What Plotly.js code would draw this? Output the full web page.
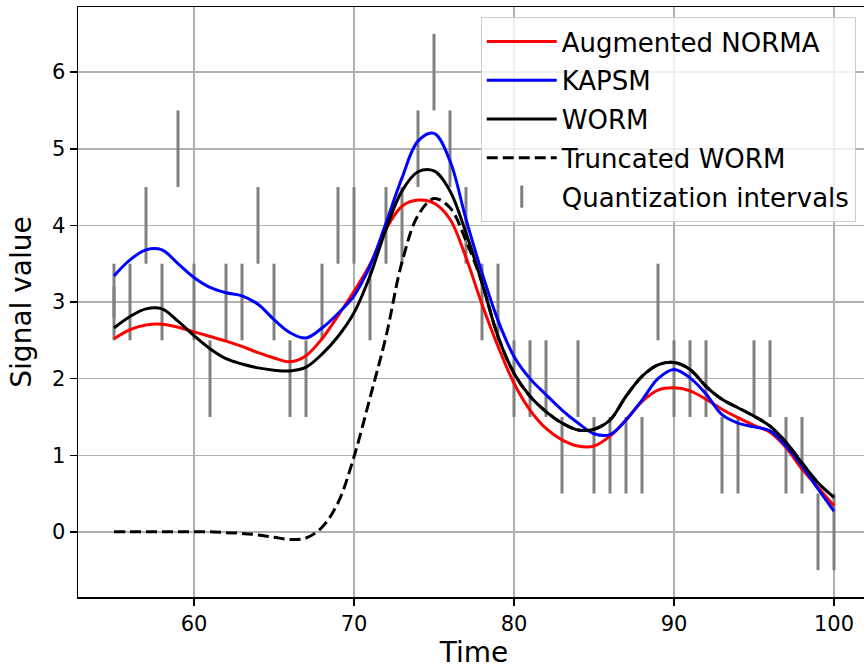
<!DOCTYPE html>
<html>
<head>
<meta charset="utf-8">
<script src="https://cdn.plot.ly/plotly-3.0.1.min.js"></script>
<style>
  html, body { margin: 0; padding: 0; overflow: hidden; background: #fff; }
  #chart { width: 870px; height: 670px; }
</style>
</head>
<body>
<div id="chart"></div>
<script>
// ---- data ----
const times = [55,56,57,58,59,60,61,62,63,64,65,66,67,68,69,70,71,72,73,74,75,76,77,78,79,80,
               81,82,83,84,85,86,87,88,89,90,91,92,93,94,95,96,97,98,99,100];

// lower edge of each quantization interval (each interval is 1 unit wide)
const intervalLower = [2.5,2.5,3.5,2.5,4.5,2.5,1.5,2.5,2.5,3.5,2.5,1.5,1.5,2.5,3.5,3.5,2.5,3.5,3.5,4.5,5.5,4.5,3.5,2.5,2.5,1.5,
                       1.5,1.5,0.5,1.5,0.5,0.5,0.5,0.5,2.5,1.5,1.5,1.5,0.5,0.5,1.5,1.5,0.5,0.5,-0.5,-0.5];
const intervalWidth = 1;

const augmentedNorma = [2.52,2.64,2.70,2.71,2.67,2.61,2.55,2.49,2.42,2.34,2.27,2.22,2.30,2.52,2.82,3.14,3.49,3.95,4.25,4.33,4.29,4.08,3.58,2.97,2.42,1.94,
                        1.59,1.35,1.20,1.12,1.12,1.25,1.46,1.70,1.85,1.88,1.84,1.73,1.60,1.49,1.39,1.30,1.10,0.82,0.58,0.34];
const kapsm = [3.34,3.55,3.68,3.68,3.50,3.32,3.19,3.12,3.08,2.97,2.77,2.60,2.53,2.66,2.85,3.08,3.47,4.03,4.62,5.10,5.20,4.84,4.08,3.38,2.76,2.29,
               2.00,1.79,1.59,1.42,1.28,1.27,1.46,1.72,2.00,2.12,2.01,1.80,1.53,1.42,1.37,1.32,1.12,0.86,0.56,0.27];
const worm = [2.66,2.81,2.91,2.91,2.75,2.56,2.39,2.26,2.19,2.14,2.11,2.10,2.15,2.32,2.55,2.86,3.34,3.95,4.45,4.70,4.71,4.45,3.90,3.25,2.55,2.07,
              1.77,1.57,1.42,1.33,1.34,1.46,1.77,2.03,2.18,2.21,2.12,1.90,1.73,1.62,1.51,1.38,1.17,0.90,0.64,0.45];
const truncatedWorm = [0,0,0,0,0,0,0,-0.01,-0.02,-0.04,-0.07,-0.10,-0.08,0.06,0.38,0.98,1.75,2.55,3.52,4.13,4.35,4.23,3.80,3.25,2.55,2.07,
                       1.77,1.57,1.42,1.33,1.34,1.46,1.77,2.03,2.18,2.21,2.12,1.90,1.73,1.62,1.51,1.38,1.17,0.90,0.64,0.45];

const seriesNames = ['Augmented NORMA','KAPSM','WORM','Truncated WORM','Quantization intervals'];
const xTicks = [60,70,80,90,100];
const yTicks = [0,1,2,3,4,5,6];

// ---- build traces ----
const ix = [], iy = [];
times.forEach((t, i) => {
  ix.push(t, t, null);
  iy.push(intervalLower[i], intervalLower[i] + intervalWidth, null);
});

const FONT = 'DejaVu Sans, Verdana, sans-serif';
const traces = [
  { x: ix, y: iy, mode: 'lines', line: {color: '#808080', width: 3}, showlegend: false, hoverinfo: 'skip' },
  { x: times, y: augmentedNorma, name: seriesNames[0], legendgroup: 'a', mode: 'lines', line: {color: '#ff0000', width: 3, shape: 'spline', smoothing: 1} },
  { x: times, y: kapsm, name: seriesNames[1], legendgroup: 'b', mode: 'lines', line: {color: '#0000ff', width: 3, shape: 'spline', smoothing: 1} },
  { x: times, y: worm, name: seriesNames[2], legendgroup: 'c', mode: 'lines', line: {color: '#000000', width: 3, shape: 'spline', smoothing: 1} },
  { x: times, y: truncatedWorm, name: seriesNames[3], legendgroup: 'd', mode: 'lines', line: {color: '#000000', width: 3, dash: '11px,5px', shape: 'spline', smoothing: 1} },
  // legend entry for the intervals (sits inside the first interval bar)
  { x: [times[0]], y: [intervalLower[0] + intervalWidth / 2], name: seriesNames[4], legendgroup: 'e', mode: 'markers',
    marker: {symbol: 'line-ns', size: 22, color: '#808080', line: {color: '#808080', width: 3}} }
];

const axisCommon = {
  showline: true, mirror: true, linecolor: '#000', linewidth: 1.5,
  ticks: 'outside', ticklen: 7, tickwidth: 1.5, tickcolor: '#000',
  showgrid: true, gridcolor: '#b0b0b0', gridwidth: 1.5, zeroline: false,
  tickfont: {family: FONT, size: 21, color: '#000'}
};

const layout = {
  width: 870, height: 670,
  margin: {l: 78, r: 0, t: 7, b: 73},
  paper_bgcolor: '#fff', plot_bgcolor: '#fff',
  font: {family: FONT, color: '#000'},
  xaxis: Object.assign({}, axisCommon, {
    range: [52.75, 102.25], tickvals: xTicks, ticktext: xTicks.map(String),
    title: {text: 'Time', font: {family: FONT, size: 28, color: '#000'}, standoff: 6}
  }),
  yaxis: Object.assign({}, axisCommon, {
    range: [-0.85, 6.85], tickvals: yTicks, ticktext: yTicks.map(String),
    title: {text: 'Signal value', font: {family: FONT, size: 28, color: '#000'}, standoff: 12}
  }),
  legend: {
    x: 0.982, xanchor: 'right', y: 0.983, yanchor: 'top',
    bgcolor: 'rgba(255,255,255,0.8)', bordercolor: '#cccccc', borderwidth: 1,
    font: {family: FONT, size: 26, color: '#000'},
    itemwidth: 70, tracegroupgap: 2, traceorder: 'grouped'
  },
  showlegend: true
};

Plotly.newPlot('chart', traces, layout, {displayModeBar: false, staticPlot: true});
</script>
</body>
</html>
